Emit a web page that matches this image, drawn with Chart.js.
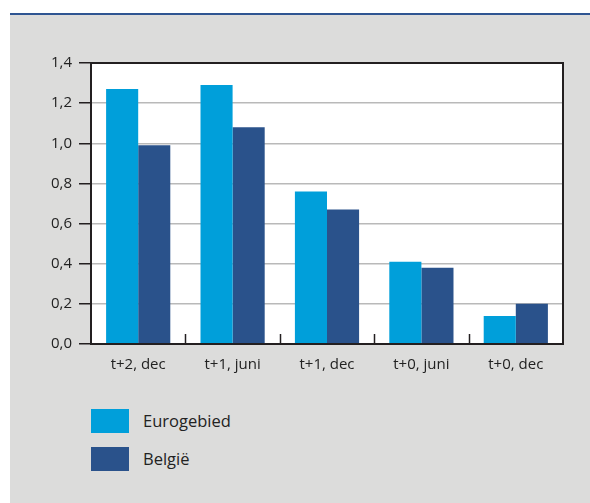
<!DOCTYPE html>
<html>
<head>
<meta charset="utf-8">
<script src="https://cdn.jsdelivr.net/npm/chart.js@4/dist/chart.umd.min.js"></script>
<style>
  html, body { margin: 0; padding: 0; background: #ffffff; width: 590px; height: 503px; overflow: hidden; }
  #topline { position: absolute; left: 10px; top: 13px; width: 580px; height: 2px; background: #2f5592; }
  #panel { position: absolute; left: 10px; top: 15px; width: 580px; height: 488px; background: #dcdcdb; }
  #c { position: absolute; left: 10px; top: 15px; }
  .leg { position: absolute; left: 91px; height: 24px; font-family: "Open Sans", sans-serif; font-size: 16.5px; color: #222; }
  .leg .box { position: absolute; left: 0; top: 0; width: 38px; height: 24px; }
  .leg .txt { position: absolute; left: 52px; top: 0; line-height: 24px; white-space: nowrap; }
</style>
</head>
<body>
<div id="topline"></div>
<div id="panel"></div>
<canvas id="c" width="580" height="380"></canvas>
<div id="legend"></div>
<script>
const categories = ["t+2, dec", "t+1, juni", "t+1, dec", "t+0, juni", "t+0, dec"];
const seriesNames = ["Eurogebied", "België"];
const eurogebied = [1.27, 1.29, 0.76, 0.41, 0.14];
const belgie = [0.99, 1.08, 0.67, 0.38, 0.20];
const seriesColors = ["#009fda", "#2a528b"];

const plotBg = {
  id: 'plotBg',
  beforeDraw(chart) {
    const a = chart.chartArea, ctx = chart.ctx;
    ctx.save();
    ctx.fillStyle = '#ffffff';
    ctx.fillRect(a.left, a.top, a.right - a.left, a.bottom - a.top);
    ctx.restore();
  },
  afterDatasetsDraw(chart) {
    const a = chart.chartArea, ctx = chart.ctx;
    const xs = chart.scales.x;
    ctx.save();
    ctx.strokeStyle = '#231f20';
    ctx.lineWidth = 1.5;
    for (let i = 1; i < categories.length; i++) {
      const x = Math.round((xs.getPixelForValue(i - 1) + xs.getPixelForValue(i)) / 2) + 0.5;
      ctx.beginPath();
      ctx.moveTo(x, a.bottom);
      ctx.lineTo(x, a.bottom - 10);
      ctx.stroke();
    }
    ctx.lineWidth = 2;
    ctx.strokeRect(a.left, a.top, a.right - a.left, a.bottom - a.top);
    ctx.restore();
  }
};

const chart = new Chart(document.getElementById('c'), {
  type: 'bar',
  data: {
    labels: categories,
    datasets: [
      { label: seriesNames[0], data: eurogebied, backgroundColor: seriesColors[0], borderWidth: 0 },
      { label: seriesNames[1], data: belgie, backgroundColor: seriesColors[1], borderWidth: 0 }
    ]
  },
  options: {
    responsive: false,
    devicePixelRatio: 1,
    animation: false,
    categoryPercentage: 0.68,
    barPercentage: 1.0,
    layout: { padding: { left: 0, top: 48, right: 27, bottom: 0 } },
    plugins: { legend: { display: false }, tooltip: { enabled: false } },
    scales: {
      x: {
        grid: { display: false, drawTicks: false },
        border: { display: false },
        ticks: { font: { family: 'Open Sans', size: 15 }, color: '#222', padding: 12, maxRotation: 0 },
        afterFit(s) { s.height = 51; }
      },
      y: {
        min: 0, max: 1.4,
        grid: { color: '#b9b9b9', lineWidth: 1.5, tickLength: 12, tickColor: '#231f20' },
        border: { display: false },
        ticks: {
          stepSize: 0.2,
          font: { family: 'Open Sans', size: 15 },
          color: '#222',
          padding: 7,
          callback: v => v.toFixed(1).replace('.', ',')
        },
        afterFit(s) { s.width = 81; }
      }
    }
  },
  plugins: [plotBg]
});

const legend = document.getElementById('legend');
const legTops = [409, 447];
chart.data.datasets.forEach((ds, i) => {
  const d = document.createElement('div');
  d.className = 'leg';
  d.style.top = legTops[i] + 'px';
  const b = document.createElement('div');
  b.className = 'box';
  b.style.background = ds.backgroundColor;
  const t = document.createElement('div');
  t.className = 'txt';
  t.textContent = ds.label;
  d.appendChild(b); d.appendChild(t);
  legend.appendChild(d);
});
</script>
</body>
</html>
